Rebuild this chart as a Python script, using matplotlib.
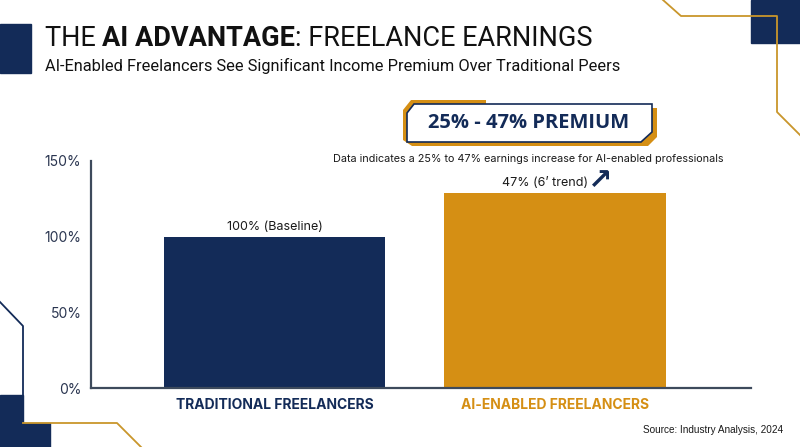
import matplotlib
matplotlib.use("Agg")
import matplotlib.pyplot as plt
from matplotlib.patches import Polygon, Rectangle
from matplotlib.lines import Line2D

# ---- data ----
categories = ["TRADITIONAL FREELANCERS", "AI-ENABLED FREELANCERS"]
values = [100, 129]
bar_labels = ["100% (Baseline)", "47% (6\u2019 trend)"]
yticks = [0, 50, 100, 150]
ytick_labels = ["0%", "50%", "100%", "150%"]

NAVY = "#132b58"
ORANGE = "#d58f14"
GOLD = "#c9962b"
SPINE = "#3d4a5c"

W, H = 800, 447
fig = plt.figure(figsize=(8, 4.47), dpi=100)
fig.patch.set_facecolor("white")

def fx(x):
    return x / W

def fy(y):
    return 1 - y / H

def pts(lst):
    return [(fx(x), fy(y)) for x, y in lst]

# ---- decorations ----
fig.patches.append(Rectangle((fx(0), fy(73)), fx(31), 49 / H, transform=fig.transFigure,
                             color=NAVY, zorder=0))
fig.patches.append(Rectangle((fx(751), fy(43)), fx(49), 43 / H, transform=fig.transFigure,
                             color=NAVY, zorder=0))
fig.lines.append(Line2D([fx(663), fx(681), fx(777), fx(777), fx(800)],
                        [fy(0), fy(16), fy(16), fy(112), fy(135)],
                        transform=fig.transFigure, color=GOLD, lw=1.3, zorder=1))
# bottom left
fig.patches.append(Rectangle((fx(0), fy(447)), fx(23), 52 / H, transform=fig.transFigure,
                             color=NAVY, zorder=0))
fig.patches.append(Rectangle((fx(23), fy(447)), fx(27), 24 / H, transform=fig.transFigure,
                             color=NAVY, zorder=0))
fig.lines.append(Line2D([fx(0), fx(23), fx(23)], [fy(302), fy(326), fy(423)],
                        transform=fig.transFigure, color=NAVY, lw=1.3, zorder=1))
fig.lines.append(Line2D([fx(23), fx(117), fx(141)], [fy(423), fy(423), fy(447)],
                        transform=fig.transFigure, color=GOLD, lw=1.3, zorder=1))

# ---- axes ----
ax_left, ax_right, ax_top, ax_bot = 91, 751, 161, 388
ax = fig.add_axes([fx(ax_left), fy(ax_bot), (ax_right - ax_left) / W, (ax_bot - ax_top) / H])
ax.set_facecolor("none")
xpos = list(range(len(categories)))
bar_colors = [NAVY, ORANGE]
ax.bar(xpos, values, width=0.79, color=bar_colors, zorder=2)
ax.set_xlim(-0.655, 1.70)
ax.set_ylim(0, 150)
ax.set_yticks(yticks)
ax.set_yticklabels(ytick_labels, fontsize=10, color="#2a3550", family="Inter")
ax.tick_params(axis="y", length=0, pad=7)
ax.set_xticks(xpos)
ax.set_xticklabels(categories, fontsize=10, fontweight="bold", family="Inter")
for lbl, c in zip(ax.get_xticklabels(), bar_colors):
    lbl.set_color(c)
ax.tick_params(axis="x", length=0, pad=7)
for s in ["top", "right"]:
    ax.spines[s].set_visible(False)
for s in ["left", "bottom"]:
    ax.spines[s].set_color(SPINE)
    ax.spines[s].set_linewidth(1.6)

ax.annotate(bar_labels[0], (xpos[0], values[0]), xytext=(0, 3), textcoords="offset points",
            ha="center", va="bottom", fontsize=9, color="#1a1a1a", family="Inter")
ax.annotate(bar_labels[1], (xpos[1] - 0.035, values[1]), xytext=(0, 3), textcoords="offset points",
            ha="center", va="bottom", fontsize=9, color="#1a1a1a", family="Inter")
fig.text(fx(600), fy(181), "\u2197", ha="center", va="center", fontsize=21,
         fontweight="bold", color=NAVY, family="DejaVu Sans")

# ---- premium box ----
gold_poly = [(403, 110), (411, 100), (486, 100), (486, 108), (657, 108),
             (657, 137), (648, 146), (412, 146), (403, 140)]
fig.patches.append(Polygon(pts(gold_poly), closed=True, transform=fig.transFigure,
                           facecolor=ORANGE, edgecolor="none", zorder=3))
white_poly = [(407, 113), (414, 104), (652, 104), (652, 132), (641, 142), (407, 142)]
fig.patches.append(Polygon(pts(white_poly), closed=True, transform=fig.transFigure,
                           facecolor="white", edgecolor=NAVY, lw=1.2, zorder=4))
fig.text(fx(529), fy(123), "25% - 47% PREMIUM", ha="center", va="center", fontsize=14.5,
         fontweight="bold", color=NAVY, family="Open Sans", zorder=5)
fig.text(fx(528.5), fy(159), "Data indicates a 25% to 47% earnings increase for AI-enabled professionals",
         ha="center", va="center", fontsize=7.8, color="#1a1a1a", family="Inter")

# ---- title (mixed weight) ----
renderer = fig.canvas.get_renderer()
x = fx(45)
for part, wt in [("THE ", "normal"), ("AI ADVANTAGE", "bold"), (": FREELANCE EARNINGS", "normal")]:
    t = fig.text(x, fy(45.5), part, ha="left", va="baseline", fontsize=19.5, fontweight=wt,
                 color="#111111", family="Roboto")
    bb = t.get_window_extent(renderer=renderer)
    x = bb.x1 / W
fig.text(fx(45), fy(71), "AI-Enabled Freelancers See Significant Income Premium Over Traditional Peers",
         ha="left", va="baseline", fontsize=11.8, color="#111111", family="Roboto")

fig.text(fx(783), fy(430), "Source: Industry Analysis, 2024", ha="right", va="center",
         fontsize=7.2, color="#1a1a1a", family="Liberation Sans")

fig.savefig("out.png", dpi=100, facecolor="white")
